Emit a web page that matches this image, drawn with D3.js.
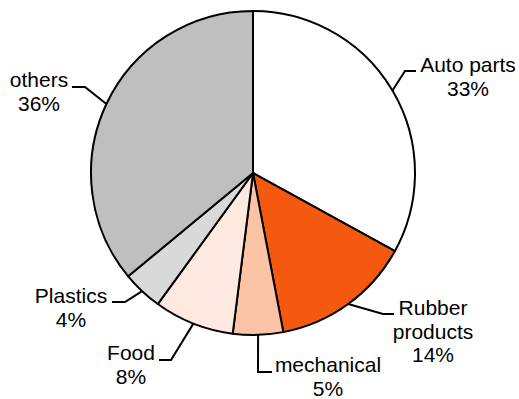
<!DOCTYPE html>
<html>
<head>
<meta charset="utf-8">
<script src="https://cdn.jsdelivr.net/npm/d3@7/dist/d3.min.js"></script>
<style>
  html, body { margin: 0; padding: 0; background: #fff; }
  svg { display: block; }
  text { font-family: "Liberation Sans", Arial, sans-serif; font-size: 21px; fill: #000; }
</style>
</head>
<body>
<svg id="chart" width="519" height="399"></svg>
<script>
// Industry shares, clockwise from 12 o'clock
const categories = ["Auto parts", "Rubber products", "mechanical", "Food", "Plastics", "others"];
const shares = [33, 14, 5, 8, 4, 36];
const labelLines = [["Auto parts", "33%"], ["Rubber", "products", "14%"], ["mechanical", "5%"], ["Food", "8%"], ["Plastics", "4%"], ["others", "36%"]];
const colors = ["#ffffff", "#f4590f", "#fbc4a6", "#fde9df", "#d9d9d9", "#bfbfbf"];

// Label block placement: centre x, first baseline y, elbow of leader, end of leader
const labelPos = [
  { x: 468, y: 72,  elbow: [405, 71],  end: [416, 71] },
  { x: 433, y: 315, elbow: [383, 314], end: [394, 314] },
  { x: 328, y: 372, elbow: [258, 372], end: [272, 372] },
  { x: 131, y: 360, elbow: [171, 360], end: [159, 360] },
  { x: 71,  y: 303, elbow: [125, 302], end: [112, 302] },
  { x: 39,  y: 87,  elbow: [85, 87],   end: [72, 87] }
];
const lineGap = 23.5;

const cx = 253, cy = 173, r = 162;
const svg = d3.select("#chart");
const g = svg.append("g").attr("transform", `translate(${cx},${cy})`);

const data = categories.map((c, i) => ({ name: c, value: shares[i], i }));
const pie = d3.pie().value(d => d.value).sort(null);
const arcs = pie(data);
const arc = d3.arc().innerRadius(0).outerRadius(r);

g.selectAll("path.slice")
  .data(arcs)
  .join("path")
  .attr("class", "slice")
  .attr("d", arc)
  .attr("fill", d => colors[d.data.i])
  .attr("stroke", "#000")
  .attr("stroke-width", 2)
  .attr("stroke-linejoin", "round");

// Leader lines from the slice's mid-angle on the rim
const leaders = svg.append("g");
arcs.forEach(a => {
  const mid = (a.startAngle + a.endAngle) / 2;
  const sx = cx + r * Math.sin(mid);
  const sy = cy - r * Math.cos(mid);
  const p = labelPos[a.data.i];
  leaders.append("polyline")
    .attr("points", [[sx, sy], p.elbow, p.end].map(q => q.join(",")).join(" "))
    .attr("fill", "none")
    .attr("stroke", "#000")
    .attr("stroke-width", 2);
});

// Labels
const labels = svg.append("g");
labelLines.forEach((lines, i) => {
  const p = labelPos[i];
  const t = labels.append("text").attr("text-anchor", "middle");
  lines.forEach((ln, k) => {
    t.append("tspan").attr("x", p.x).attr("y", p.y + k * lineGap).text(ln);
  });
});
</script>
</body>
</html>
